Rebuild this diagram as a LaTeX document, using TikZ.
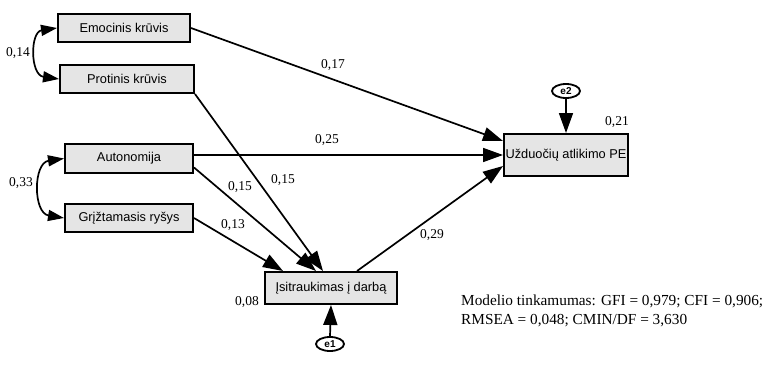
\documentclass[tikz,border=0pt]{standalone}
\usepackage{fontspec}
\setmainfont{Liberation Serif}
\newfontfamily\boxfont{Liberation Sans}
\usetikzlibrary{arrows.meta,shapes.geometric,calc}
\tikzset{
  varbox/.style={draw=black, line width=2pt, fill=black!10, minimum height=28pt,
    inner sep=0pt, font=\boxfont\fontsize{12.8}{14}\selectfont},
  errnode/.style={draw=black, ellipse, line width=1.8pt, fill=white, minimum width=28pt,
    minimum height=14pt, inner sep=0pt, font=\boxfont\bfseries\fontsize{10}{11}\selectfont},
  path/.style={line width=1.7pt, -{Triangle[length=20pt,width=14pt]}},
  cov/.style={line width=1.7pt, {Triangle[length=16pt,width=11pt]}-{Triangle[length=16pt,width=11pt]}},
  coef/.style={font=\fontsize{13.5}{15}\selectfont, inner sep=0pt}
}
\begin{document}
\begin{tikzpicture}[x=1pt,y=-1pt]
\useasboundingbox (0,0) rectangle (768,367);
\fill[white] (0,0) rectangle (768,367);
% boxes
\node[varbox, minimum width=132pt] (emo) at (124,28) {Emocinis krūvis};
\node[varbox, minimum width=134pt] (pro) at (127,79) {Protinis krūvis};
\node[varbox, minimum width=128pt, minimum height=29pt] (aut) at (129,158.5) {Autonomija};
\node[varbox, minimum width=128pt] (gri) at (129,218) {Grįžtamasis ryšys};
\node[varbox, minimum width=132pt, minimum height=32pt] (isi) at (331,288) {Įsitraukimas į darbą};
\node[varbox, minimum width=124pt, minimum height=42pt] (uzd) at (566,155) {Užduočių atlikimo PE};
\node[errnode] (e2) at (566,91) {e2};
\node[errnode] (e1) at (330,344) {e1};
% covariances
\draw[cov] (emo.west) .. controls (30,32) and (30,75) .. (pro.west);
\draw[cov] (aut.west) .. controls (33,163) and (33,213) .. (gri.west);
% paths
\draw[path] (emo.east) -- ([yshift=14pt]uzd.west);
\draw[path] (aut.east |- uzd.west) -- (uzd.west);
\draw[path] (pro.south east) -- ([xshift=-8pt]isi.north);
\draw[path] ([yshift=-9pt]aut.east) -- ([xshift=-15pt]isi.north);
\draw[path] (gri.east) -- ([xshift=-48pt]isi.north);
\draw[path] ([xshift=26pt]isi.north) -- ([yshift=-11pt]uzd.west);
\draw[path] (e2.south) -- (uzd.north);
\draw[path] (e1.north) -- (isi.south);
% coefficients
\node[coef] (c14) at (18,53) {0,14};
\node[coef] (c33) at (21,183) {0,33};
\node[coef] (c17) at (333,65) {0,17};
\node[coef] (c25) at (327,140) {0,25};
\node[coef] (c15a) at (240,187) {0,15};
\node[coef] (c15b) at (283,180) {0,15};
\node[coef] (c13) at (233,225) {0,13};
\node[coef] (c29) at (432,235) {0,29};
\node[coef] (c21) at (617,122) {0,21};
\node[coef] (c08) at (247,302) {0,08};
% fit
\node[anchor=west, align=left, inner sep=0pt, font=\fontsize{15.3}{19}\selectfont] (fit) at (461,311)
  {Modelio tinkamumas: GFI = 0,979; CFI = 0,906;\\RMSEA = 0,048; CMIN/DF = 3,630};
\end{tikzpicture}
\end{document}
